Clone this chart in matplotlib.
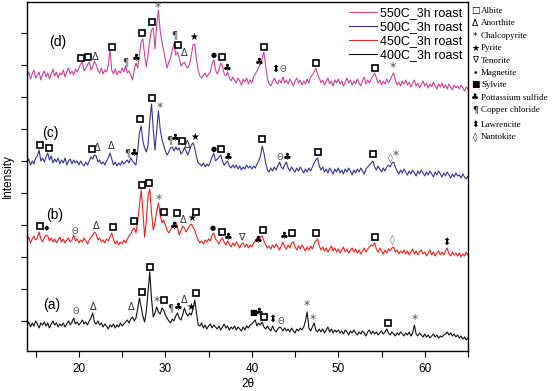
import numpy as np
import matplotlib
matplotlib.use("Agg")
import matplotlib.pyplot as plt

# === DATA ===
# 2-theta grid of the scans, 0.2 deg step from 14 to 65
two_theta = np.round(np.arange(14.0, 65.001, 0.2), 1)

# intensities (a.u., already stacked)
scan_550 = [
    274, 279, 272, 277, 281, 273, 276, 279, 271, 277,
    280, 274, 278, 272, 277, 282, 275, 279, 273, 278,
    276, 281, 274, 279, 283, 277, 280, 276, 282, 279,
    283, 287, 289, 280, 283, 286, 289, 281, 284, 290,
    286, 281, 278, 283, 277, 281, 279, 286, 301, 281,
    277, 282, 276, 280, 278, 283, 279, 285, 278, 280,
    276, 271, 281, 288, 283, 296, 309, 312, 296, 284,
    296, 311, 321, 323, 302, 326, 341, 320, 309, 301,
    291, 283, 289, 293, 301, 308, 296, 299, 293, 285,
    287, 289, 285, 283, 287, 296, 306, 307, 291, 281,
    275, 273, 276, 278, 274, 277, 279, 287, 291, 281,
    277, 281, 288, 285, 277, 275, 279, 273, 270, 274,
    271, 268, 273, 270, 266, 272, 269, 273, 267, 271,
    268, 274, 277, 280, 284, 287, 293, 299, 285, 273,
    267, 265, 269, 273, 269, 267, 271, 268, 274, 268,
    271, 267, 272, 269, 265, 270, 273, 268, 271, 266,
    270, 267, 272, 268, 274, 276, 279, 283, 277, 273,
    268, 271, 266, 270, 273, 267, 270, 265, 271, 268,
    272, 267, 270, 265, 269, 273, 268, 271, 266, 270,
    267, 272, 268, 265, 270, 274, 267, 271, 268, 272,
    275, 278, 273, 268, 271, 266, 270, 267, 272, 268,
    271, 275, 278, 271, 266, 269, 265, 270, 267, 271,
    266, 269, 264, 268, 271, 265, 268, 263, 267, 270,
    265, 268, 263, 267, 264, 269, 265, 262, 267, 264,
    268, 263, 266, 262, 267, 264, 261, 266, 263, 265,
    262, 266, 263, 260, 264, 262,
]
scan_500 = [
    188, 192, 186, 190, 187, 193, 195, 201, 190, 193,
    189, 194, 198, 191, 195, 188, 192, 189, 193, 187,
    191, 188, 193, 186, 190, 192, 187, 191, 188, 190,
    186, 190, 187, 185, 189, 186, 190, 194, 192, 196,
    195, 189, 191, 187, 189, 186, 190, 193, 198, 192,
    186, 189, 185, 188, 186, 190, 187, 189, 191, 188,
    193, 190, 188, 186, 200, 218, 225, 210, 203, 199,
    206, 230, 247, 222, 201, 220, 240, 222, 212, 206,
    200, 196, 199, 203, 204, 200, 204, 201, 203, 197,
    199, 203, 200, 196, 201, 206, 208, 203, 194, 188,
    187, 185, 188, 184, 187, 185, 189, 194, 198, 190,
    192, 194, 196, 190, 186, 188, 190, 185, 183, 186,
    183, 186, 182, 185, 181, 184, 182, 186, 183, 185,
    182, 185, 183, 187, 190, 195, 205, 198, 188, 181,
    179, 183, 180, 184, 181, 185, 189, 184, 182, 186,
    189, 183, 180, 184, 181, 179, 183, 180, 184, 181,
    178, 182, 179, 183, 180, 184, 188, 191, 193, 185,
    181, 184, 179, 182, 178, 183, 180, 177, 182, 179,
    183, 178, 181, 177, 182, 179, 183, 180, 176, 181,
    178, 182, 179, 183, 180, 177, 182, 184, 186, 188,
    190, 184, 181, 185, 182, 179, 183, 180, 184, 186,
    184, 188, 189, 184, 180, 177, 181, 178, 182, 179,
    176, 180, 177, 181, 178, 175, 180, 177, 181, 178,
    175, 179, 176, 180, 177, 174, 179, 176, 180, 177,
    174, 178, 175, 179, 176, 173, 177, 174, 178, 175,
    176, 173, 177, 174, 172, 175,
]
scan_450 = [
    110, 114, 108, 112, 115, 111, 113, 119, 112, 109,
    113, 116, 115, 110, 113, 109, 112, 108, 111, 114,
    109, 112, 108, 111, 113, 109, 111, 116, 110, 112,
    108, 111, 109, 113, 110, 107, 111, 114, 116, 119,
    117, 111, 113, 109, 111, 108, 112, 110, 114, 118,
    112, 107, 110, 106, 109, 107, 111, 108, 112, 115,
    117, 121, 123, 118, 130, 145, 161, 140, 114, 130,
    155, 162, 138, 121, 128, 140, 148, 136, 128, 131,
    126, 121, 118, 121, 124, 126, 129, 124, 116, 120,
    125, 123, 119, 122, 125, 127, 124, 121, 115, 111,
    108, 110, 107, 111, 109, 112, 110, 116, 118, 112,
    110, 107, 111, 113, 109, 106, 110, 107, 104, 108,
    105, 109, 106, 103, 107, 108, 104, 107, 103, 106,
    104, 108, 110, 113, 111, 114, 115, 110, 106, 103,
    105, 102, 106, 103, 107, 104, 101, 105, 109, 104,
    102, 106, 103, 108, 109, 104, 101, 105, 102, 106,
    103, 100, 104, 101, 105, 102, 107, 110, 112, 105,
    101, 104, 100, 103, 99, 102, 105, 100, 103, 99,
    102, 98, 101, 104, 99, 102, 98, 101, 103, 99,
    102, 98, 101, 97, 100, 103, 99, 102, 104, 106,
    105, 108, 102, 99, 103, 100, 97, 101, 98, 102,
    100, 103, 104, 99, 101, 97, 100, 98, 101, 97,
    100, 96, 99, 102, 97, 100, 96, 99, 101, 97,
    99, 95, 98, 101, 96, 99, 95, 98, 100, 96,
    99, 96, 100, 103, 97, 95, 99, 96, 98, 95,
    98, 94, 97, 95, 99, 96,
]
scan_400 = [
    26, 29, 24, 28, 25, 30, 27, 23, 28, 26,
    29, 25, 28, 23, 27, 30, 26, 28, 24, 27,
    25, 28, 24, 27, 30, 26, 29, 33, 27, 29,
    26, 28, 31, 27, 29, 26, 30, 33, 38, 29,
    27, 30, 26, 28, 24, 27, 25, 22, 26, 24,
    27, 23, 26, 24, 28, 25, 27, 29, 31, 28,
    32, 34, 30, 33, 42, 53, 44, 35, 29, 40,
    60, 79, 52, 34, 38, 44, 39, 37, 43, 41,
    36, 33, 30, 28, 32, 30, 35, 38, 33, 31,
    36, 43, 38, 35, 38, 36, 42, 51, 38, 26,
    25, 28, 23, 26, 22, 25, 27, 23, 26, 24,
    22, 25, 21, 24, 27, 23, 25, 21, 24, 22,
    25, 21, 24, 22, 20, 24, 21, 25, 23, 26,
    27, 29, 31, 25, 28, 26, 29, 24, 22, 25,
    22, 20, 25, 21, 19, 22, 24, 23, 20, 23,
    20, 22, 19, 23, 20, 18, 22, 20, 23, 21,
    24, 30, 39, 23, 20, 24, 28, 21, 19, 22,
    19, 22, 18, 21, 24, 19, 22, 18, 21, 19,
    21, 18, 20, 17, 21, 19, 16, 20, 18, 21,
    18, 16, 19, 17, 20, 18, 15, 19, 21, 17,
    20, 17, 19, 16, 18, 20, 17, 19, 22, 18,
    16, 19, 17, 15, 18, 16, 19, 17, 15, 18,
    16, 19, 15, 18, 26, 17, 15, 18, 16, 14,
    17, 14, 16, 13, 15, 17, 14, 16, 13, 15,
    14, 16, 17, 19, 16, 18, 15, 17, 14, 16,
    13, 15, 12, 14, 11, 13,
]

series_labels = ["550C_3h roast", "500C_3h roast", "450C_3h roast", "400C_3h roast"]
series_colors = ["#cc4499", "#353595", "#ee2222", "#111111"]
panel_tags = ["(d)", "(c)", "(b)", "(a)"]

# phase markers: (phase, 2theta, height)
marks_550 = [
    ("alb", 20.2, 293), ("alb", 21.1, 294), ("ano", 21.9, 294), ("alb", 23.8, 304),
    ("cop", 25.4, 289), ("pot", 26.6, 293), ("alb", 27.3, 318), ("alb", 28.5, 329),
    ("cha", 29.1, 344), ("cop", 31.0, 316), ("alb", 31.5, 306), ("ano", 32.2, 298),
    ("pyr", 33.3, 314), ("mag", 35.6, 296), ("alb", 36.5, 294), ("pot", 37.2, 283),
    ("pot", 40.8, 289), ("alb", 41.4, 304), ("law", 42.7, 282), ("unk", 43.6, 282),
    ("alb", 47.4, 288), ("alb", 54.2, 283), ("cha", 56.3, 283),
]
marks_500 = [
    ("alb", 15.5, 206), ("alb", 16.5, 203), ("alb", 21.5, 202), ("ano", 22.1, 203),
    ("ano", 23.7, 205), ("cop", 25.6, 198), ("pot", 26.4, 198), ("alb", 27.1, 232),
    ("alb", 28.5, 253), ("cha", 29.3, 243), ("cop", 30.5, 211), ("pot", 31.2, 213),
    ("alb", 31.9, 210), ("ano", 32.5, 206), ("pyr", 33.4, 214), ("mag", 35.6, 202),
    ("alb", 36.4, 202), ("pot", 37.3, 194), ("alb", 41.2, 212), ("unk", 43.2, 194),
    ("pot", 44.1, 194), ("alb", 47.6, 199), ("alb", 54.0, 197), ("nan", 56.0, 193),
    ("cha", 56.7, 195),
]
marks_450 = [
    ("alb", 15.5, 125), ("dia", 16.3, 123), ("unk", 19.5, 119), ("ano", 22.0, 125),
    ("alb", 23.9, 124), ("alb", 26.4, 130), ("alb", 27.3, 166), ("alb", 28.1, 168),
    ("cha", 29.2, 152), ("alb", 29.9, 139), ("pot", 31.0, 125), ("alb", 31.3, 138),
    ("ano", 32.1, 131), ("pyr", 33.0, 133), ("alb", 33.6, 139), ("mag", 35.5, 123),
    ("alb", 36.6, 119), ("pot", 37.3, 114), ("ten", 38.8, 114), ("pot", 40.7, 111),
    ("alb", 41.3, 121), ("pot", 43.7, 115), ("alb", 44.7, 118), ("alb", 47.4, 118),
    ("alb", 54.2, 114), ("nan", 56.3, 111), ("law", 62.5, 109),
]
marks_400 = [
    ("unk", 19.6, 39), ("ano", 21.7, 44), ("ano", 26.1, 44), ("alb", 27.3, 59),
    ("alb", 28.2, 84), ("cha", 29.0, 49), ("alb", 29.8, 51), ("cop", 30.6, 43),
    ("pot", 31.5, 44), ("ano", 32.2, 51), ("pyr", 32.9, 44), ("alb", 33.5, 58),
    ("syl", 40.1, 39), ("pot", 40.9, 39), ("alb", 41.4, 34), ("law", 42.4, 32),
    ("unk", 43.4, 30), ("cha", 46.3, 45), ("cha", 47.1, 32), ("alb", 55.7, 28),
    ("cha", 58.8, 32),
]

key_symbols = ["\u25a1", "\u0394", "*", "\u2605", "\u2207", "\u2022", "\u25a0",
               "\u2663", "\u00b6", "\u2b0d", "\u25ca"]
key_names = ["Albite", "Anorthite", "Chalcopyrite", "Pyrite", "Tenorite", "Magnetite",
             "Sylvite", "Pottassium sulfide", "Copper chloride", "Lawrencite", "Nantokite"]

# glyph, fontsize, colour for the text markers
GLYPHS = {
    "ano": ("\u0394", 7, "#333333"),
    "cha": ("*", 9, "#555555"),
    "pyr": ("\u2605", 7, "black"),
    "ten": ("\u2207", 7, "#333333"),
    "mag": ("\u25cf", 5, "black"),
    "syl": ("\u25a0", 6, "black"),
    "pot": ("\u2663", 7, "black"),
    "cop": ("\u00b6", 7, "#333333"),
    "law": ("\u2b0d", 7, "black"),
    "nan": ("\u25ca", 7, "#666666"),
    "unk": ("\u0398", 6, "#555555"),
    "dia": ("\u25c6", 5, "black"),
}
SYM_FONT = ["DejaVu Sans"]


def draw_marks(ax, marks):
    for phase, x, y in marks:
        if phase == "alb":
            ax.plot(x, y, "s", ms=4.5, mfc="white", mec="black", mew=1.2, zorder=5)
        else:
            g, fs, c = GLYPHS[phase]
            ax.text(x, y, g, ha="center", va="center", fontsize=fs, color=c,
                    family=SYM_FONT, zorder=5)


def plot_data():
    plt.rcParams['font.family'] = ['Liberation Sans', 'DejaVu Sans']
    fig = plt.figure(figsize=(5.52, 3.91), dpi=100)
    ax = fig.add_axes([27 / 552, 40 / 391, 441 / 552, 349 / 391])

    scans = [scan_550, scan_500, scan_450, scan_400]
    for y, lab, col in zip(scans, series_labels, series_colors):
        ax.plot(two_theta, y, color=col, lw=0.8, label=lab)

    for m in [marks_550, marks_500, marks_450, marks_400]:
        draw_marks(ax, m)

    tag_pos = [(17.5, 309), (16.7, 218), (17.2, 136), (16.8, 46)]
    for tag, (x, y) in zip(panel_tags, tag_pos):
        ax.text(x, y, tag, ha="center", va="center", fontsize=10)

    ax.set_xlim(14, 65)
    ax.set_ylim(0, 349)
    ax.set_xticks(np.arange(15, 66, 5))
    ax.set_xticklabels([str(v) if v % 10 == 0 else "" for v in range(15, 66, 5)])
    ax.set_yticks(np.arange(30, 349, 32))
    ax.set_yticklabels([])
    ax.tick_params(direction="out", length=4, width=0.8, labelsize=8.5, pad=5)
    for s in ax.spines.values():
        s.set_linewidth(1.0)
    ax.set_xlabel("2\u03b8", fontsize=8.5, labelpad=2)
    ax.set_ylabel("Intensity", fontsize=8.5)
    ax.yaxis.set_label_coords(-13 / 441, 0.5)

    ax.legend(loc="upper right", bbox_to_anchor=(1.0, 1.0), frameon=False,
              fontsize=9, handlelength=2.2, handletextpad=0.3, labelspacing=0.17,
              borderaxespad=0.3, borderpad=0.1)

    # phase key outside the axes
    rows = [11, 23, 36, 48, 61, 73, 85, 98, 110, 125, 137]
    for sym, name, py in zip(key_symbols, key_names, rows):
        fig.text(475 / 552, 1 - py / 391, sym, ha="center", va="center",
                 fontsize=6.5, family=SYM_FONT)
        fig.text(481 / 552, 1 - py / 391, name, ha="left", va="center",
                 fontsize=6.5, family=["Liberation Serif", "DejaVu Sans"])

    fig.savefig("out.png", dpi=100)


if __name__ == "__main__":
    plot_data()
